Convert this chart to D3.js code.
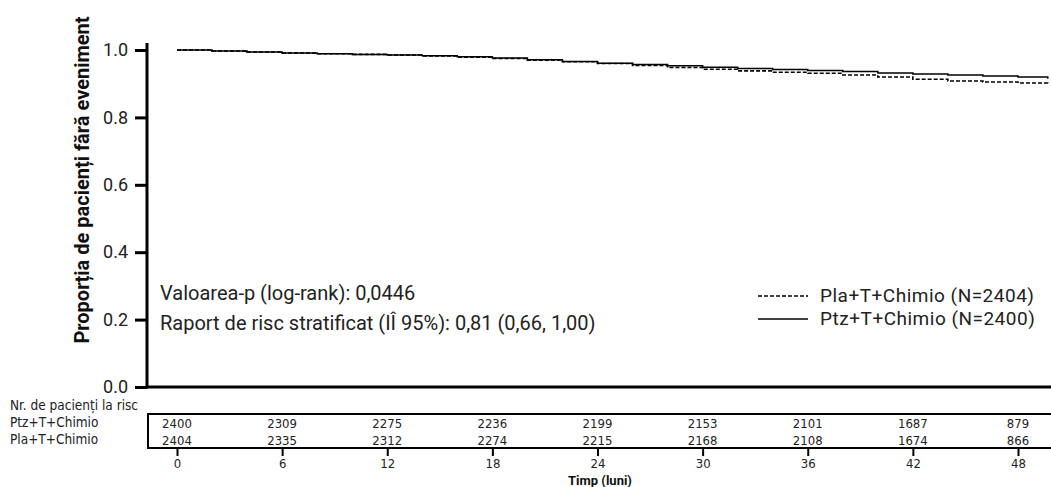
<!DOCTYPE html>
<html><head><meta charset="utf-8">
<script src="https://cdn.jsdelivr.net/npm/d3@7"></script>
<style>body{margin:0;background:#fff}svg{display:block}</style>
</head><body>
<svg id="c" width="1051" height="487"></svg>
<script>
// ---- data ----
const timesPtz = [0,2,4,6,8,10,12,14,16,18,20,22,24,26,28,30,32,34,36,38,40,42,44,46,48,49.7];
const survPtz  = [1,0.997,0.994,0.991,0.989,0.987,0.985,0.983,0.980,0.976,0.971,0.966,0.961,0.957,0.953,0.949,0.945,0.942,0.939,0.936,0.932,0.929,0.926,0.923,0.920,0.915];
const timesPla = [0,2,4,6,8,10,12,14,16,18,20,22,24,26,28,30,32,34,36,38,40,42,44,46,48,49.7];
const survPla  = [1,0.997,0.994,0.991,0.989,0.987,0.985,0.982,0.979,0.975,0.970,0.965,0.960,0.954,0.948,0.943,0.938,0.934,0.931,0.926,0.920,0.913,0.908,0.905,0.902,0.901];
const xTicks = [0,6,12,18,24,30,36,42,48];
const yTicks = [0,0.2,0.4,0.6,0.8,1.0];
const riskPtz = [2400,2309,2275,2236,2199,2153,2101,1687,879];
const riskPla = [2404,2335,2312,2274,2215,2168,2108,1674,866];
const seriesNames = ["Pla+T+Chimio (N=2404)","Ptz+T+Chimio (N=2400)"];
const riskLabels = ["Ptz+T+Chimio","Pla+T+Chimio"];

const svg = d3.select("#c");
const font = "Roboto, 'Liberation Sans', Arial, sans-serif";
const narrow = "'Liberation Sans Narrow', 'DejaVu Sans Condensed', Roboto, sans-serif";
const x = d3.scaleLinear().domain([0,48]).range([177,1018]);
const y = d3.scaleLinear().domain([0,1]).range([387,50]);

// y axis
const yAxis = d3.axisLeft(y).tickValues(yTicks).tickFormat(d3.format(".1f")).tickSize(12).tickPadding(7);
const ga = svg.append("g").attr("transform","translate(147,0)").call(yAxis);
ga.select(".domain").remove();
ga.selectAll(".tick line").attr("stroke","#000").attr("stroke-width",3);
ga.selectAll(".tick text").attr("font-family",font).attr("font-size",18).attr("fill","#222");
svg.append("line").attr("x1",147).attr("x2",147).attr("y1",43).attr("y2",388.5).attr("stroke","#000").attr("stroke-width",3);
svg.append("line").attr("x1",145.5).attr("x2",1051).attr("y1",387).attr("y2",387).attr("stroke","#000").attr("stroke-width",3);

svg.append("text").attr("transform","translate(89,180) rotate(-90)").attr("text-anchor","middle")
  .attr("font-family",font).attr("font-weight","bold").attr("font-size",20).attr("fill","#111")
  .text("Proporția de pacienți fără eveniment");

// curves
const line = d3.line().x(d=>x(d[0])).y(d=>y(d[1])).curve(d3.curveStepAfter);
svg.append("path").datum(timesPtz.map((t,i)=>[t,survPtz[i]])).attr("d",line)
  .attr("fill","none").attr("stroke","#000").attr("stroke-width",1.5);
svg.append("path").datum(timesPla.map((t,i)=>[t,survPla[i]])).attr("d",line)
  .attr("fill","none").attr("stroke","#000").attr("stroke-width",1.6).attr("stroke-dasharray","4,2");

// annotation
const ann = svg.append("g").attr("font-family",font).attr("font-size",20).attr("fill","#222");
ann.append("text").attr("x",160).attr("y",300).text("Valoarea-p (log-rank): 0,0446");
ann.append("text").attr("x",160).attr("y",330).text("Raport de risc stratificat (IÎ 95%): 0,81 (0,66, 1,00)");

// legend
const lg = svg.append("g").attr("font-family",font).attr("font-size",19).attr("letter-spacing",0.5).attr("fill","#222");
lg.append("line").attr("x1",758).attr("x2",808).attr("y1",296).attr("y2",296).attr("stroke","#000").attr("stroke-width",1.6).attr("stroke-dasharray","4,2");
lg.append("text").attr("x",820).attr("y",302).text(seriesNames[0]);
lg.append("line").attr("x1",758).attr("x2",808).attr("y1",319).attr("y2",319).attr("stroke","#000").attr("stroke-width",1.5);
lg.append("text").attr("x",820).attr("y",325).text(seriesNames[1]);

// risk table
const rt = svg.append("g").attr("font-family",narrow).attr("fill","#222");
rt.append("text").attr("x",10).attr("y",410).attr("font-size",13.5).text("Nr. de pacienți la risc");
rt.append("text").attr("x",10).attr("y",427).attr("font-size",13.5).text(riskLabels[0]);
rt.append("text").attr("x",10).attr("y",444).attr("font-size",13.5).text(riskLabels[1]);
svg.append("rect").attr("x",148).attr("y",414).attr("width",920).attr("height",34).attr("fill","none").attr("stroke","#000").attr("stroke-width",2);
rt.selectAll(".r1").data(riskPtz).join("text").attr("x",(d,i)=>x(xTicks[i])).attr("y",428).attr("text-anchor","middle").attr("font-size",13).text(d=>d);
rt.selectAll(".r2").data(riskPla).join("text").attr("x",(d,i)=>x(xTicks[i])).attr("y",445).attr("text-anchor","middle").attr("font-size",13).text(d=>d);

const xAxis = d3.axisBottom(x).tickValues(xTicks).tickSize(8).tickPadding(3);
const gx = svg.append("g").attr("transform","translate(0,448)").call(xAxis);
gx.select(".domain").remove();
gx.selectAll(".tick line").attr("stroke","#000").attr("stroke-width",2);
gx.selectAll(".tick text").attr("font-family",narrow).attr("font-size",13).attr("fill","#222");
svg.append("text").attr("x",600).attr("y",485).attr("text-anchor","middle").attr("font-family",font).attr("font-weight","bold").attr("font-size",13).attr("fill","#111").text("Timp (luni)");
</script>
</body></html>
